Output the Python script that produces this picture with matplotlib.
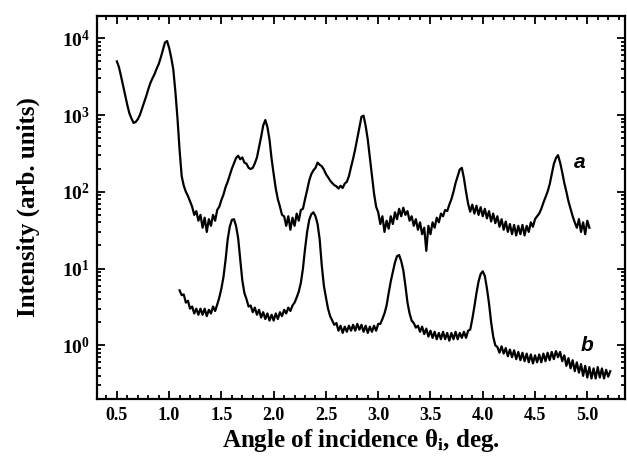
import numpy as np
import matplotlib
matplotlib.use("Agg")
import matplotlib.pyplot as plt
from matplotlib.ticker import FixedLocator, FuncFormatter, LogLocator, MultipleLocator, NullFormatter

plt.rcParams['font.family'] = ['Liberation Serif', 'DejaVu Serif']
plt.rcParams['font.weight'] = 'bold'
plt.rcParams['mathtext.fontset'] = 'custom'
plt.rcParams['mathtext.rm'] = 'Liberation Serif:bold'
plt.rcParams['mathtext.bf'] = 'Liberation Serif:bold'
plt.rcParams['mathtext.it'] = 'Liberation Serif:bold:italic'

# ---- data (angle grid start / step, intensities) ----
a_start, a_step = 0.50, 0.02
a_intensity = [
    5000, 4200, 3200, 2400, 1800, 1350, 1050, 900, 790, 810,
    880, 1000, 1200, 1450, 1750, 2150, 2600, 3000, 3400, 4000,
    4600, 5600, 7000, 8800, 9200, 7500, 5600, 3900, 2000, 900,
    350, 160, 120, 100, 88, 75,
    64, 50, 56, 42, 50, 34, 46, 30, 44, 36,
    50, 42, 58, 64, 78, 92, 115, 135, 165, 200,
    235, 275, 295, 265, 280, 240, 232, 205, 198, 205,
    235, 280, 380, 520, 730, 860, 700, 480, 270, 170,
    110, 80, 64, 50, 48, 36, 48, 32, 46, 36,
    52, 42, 58, 60, 80, 105, 140, 170, 190, 205,
    240, 225, 215, 195, 170, 155, 140, 130, 122, 118,
    110, 120, 112, 128, 135, 160, 210, 270, 360, 500,
    700, 950, 980, 720, 480, 280, 160, 95, 64, 54,
    38, 48, 30, 42, 33, 48, 38, 54, 44, 60,
    48, 62, 50, 56, 42, 48, 36, 44, 32, 40,
    28, 34, 17, 36, 28, 40, 34, 46, 40, 52,
    48, 58, 56, 68, 80, 100, 130, 160, 195, 205,
    150, 100, 70, 55, 68, 52, 66, 50, 63, 48,
    60, 45, 56, 41, 52, 39, 48, 35, 44, 32,
    41, 30, 38, 28, 37, 27, 36, 28, 37, 27,
    36, 30, 40, 35, 44, 48, 52, 60, 72, 85,
    100, 125, 170, 230, 275, 300, 240, 180, 130, 100,
    75, 60, 48, 40, 34, 44, 30, 40, 28, 42,
    34,
]

b_start, b_step = 1.10, 0.02
b_intensity = [
    5.2, 4.5, 4.6, 3.6, 3.8, 3.0, 3.2, 2.6, 3.0, 2.5,
    3.0, 2.5, 3.0, 2.4, 2.9, 2.6, 3.2, 2.8, 3.4, 4.2,
    5.5, 7.8, 13, 24, 35, 43, 44, 36, 25, 13,
    7.0, 4.8, 4.0, 3.2, 3.3, 2.7, 3.1, 2.5, 2.9, 2.3,
    2.7, 2.2, 2.6, 2.1, 2.5, 2.1, 2.6, 2.2, 2.7, 2.4,
    2.9, 2.6, 3.1, 2.8, 3.3, 3.6, 4.2, 5.0, 6.5, 10,
    18, 30, 43, 51, 54, 48, 38, 24, 11, 6.0,
    4.2, 3.0, 2.4, 2.1, 1.85, 1.95, 1.55, 1.8, 1.45, 1.75,
    1.5, 1.8, 1.55, 1.85, 1.55, 1.9, 1.6, 1.85, 1.5, 1.8,
    1.45, 1.75, 1.5, 1.8, 1.55, 1.9, 1.9, 2.2, 2.6, 3.3,
    4.8, 6.8, 9.0, 12, 14.5, 15, 12.5, 9.5, 6.0, 3.6,
    2.6, 2.1, 1.95, 1.7, 1.8, 1.5, 1.75, 1.4, 1.65, 1.3,
    1.55, 1.25, 1.5, 1.2, 1.45, 1.2, 1.5, 1.2, 1.45, 1.15,
    1.45, 1.2, 1.5, 1.2, 1.45, 1.25, 1.5, 1.25, 1.55, 1.6,
    2.2, 3.2, 4.8, 6.8, 8.5, 9.2, 8.0, 5.5, 3.5, 2.0,
    1.3, 1.0, 0.95, 0.8, 0.97, 0.78, 0.92, 0.72, 0.88, 0.7,
    0.86, 0.66, 0.82, 0.64, 0.8, 0.62, 0.78, 0.6, 0.76, 0.58,
    0.74, 0.6, 0.76, 0.6, 0.78, 0.62, 0.8, 0.64, 0.82, 0.66,
    0.84, 0.7, 0.82, 0.62, 0.74, 0.54, 0.68, 0.5, 0.64, 0.46,
    0.6, 0.44, 0.57, 0.4, 0.54, 0.38, 0.52, 0.37, 0.5, 0.37,
    0.52, 0.38, 0.5, 0.37, 0.48, 0.39, 0.46,
]

a_theta = a_start + a_step * np.arange(len(a_intensity))
b_theta = b_start + b_step * np.arange(len(b_intensity))

x_major = [0.5, 1.0, 1.5, 2.0, 2.5, 3.0, 3.5, 4.0, 4.5, 5.0]
x_labels = ["0.5", "1.0", "1.5", "2.0", "2.5", "3.0", "3.5", "4.0", "4.5", "5.0"]
y_decades = [0, 1, 2, 3, 4]

fig = plt.figure(figsize=(6.27, 4.57), dpi=100)
ax = fig.add_axes([0.1547, 0.127, 0.842, 0.838])

ax.plot(a_theta, a_intensity, color='black', lw=1.6)
ax.plot(b_theta, b_intensity, color='black', lw=1.6)

ax.set_yscale('log')
ax.set_xlim(0.31, 5.36)
ax.set_ylim(0.2, 1.95e4)

ax.xaxis.set_major_locator(FixedLocator(x_major))
ax.set_xticklabels(x_labels)
ax.xaxis.set_minor_locator(MultipleLocator(0.1))
ax.yaxis.set_major_locator(FixedLocator([10.0 ** d for d in y_decades]))
ax.yaxis.set_major_formatter(FuncFormatter(lambda v, p: r'$\mathbf{10^{%d}}$' % int(round(np.log10(v)))))
ax.yaxis.set_minor_locator(LogLocator(base=10, subs=np.arange(2, 10), numticks=20))
ax.yaxis.set_minor_formatter(NullFormatter())

ax.tick_params(which='both', direction='in', top=True, right=True, width=1.3)
ax.tick_params(which='major', length=6)
ax.tick_params(which='minor', length=3)
ax.tick_params(axis='x', labelsize=13, pad=6)
ax.tick_params(axis='y', labelsize=14, pad=5)
for lab in ax.get_xticklabels():
    lab.set_fontweight('bold')
for s in ax.spines.values():
    s.set_linewidth(1.6)

ax.set_xlabel('Angle of incidence θ$_\\mathbf{i}$, deg.', fontsize=18, fontweight='bold', labelpad=2)
ax.set_ylabel('Intensity (arb. units)', fontsize=18, fontweight='bold', labelpad=16)

ax.text(4.93, 240, 'a', fontsize=15, fontweight='bold', fontstyle='italic',
        family=['Liberation Sans', 'DejaVu Sans'], ha='center', va='center')
ax.text(5.0, 1.0, 'b', fontsize=15, fontweight='bold', fontstyle='italic',
        family=['Liberation Sans', 'DejaVu Sans'], ha='center', va='center')

fig.savefig('out.png', dpi=100)
